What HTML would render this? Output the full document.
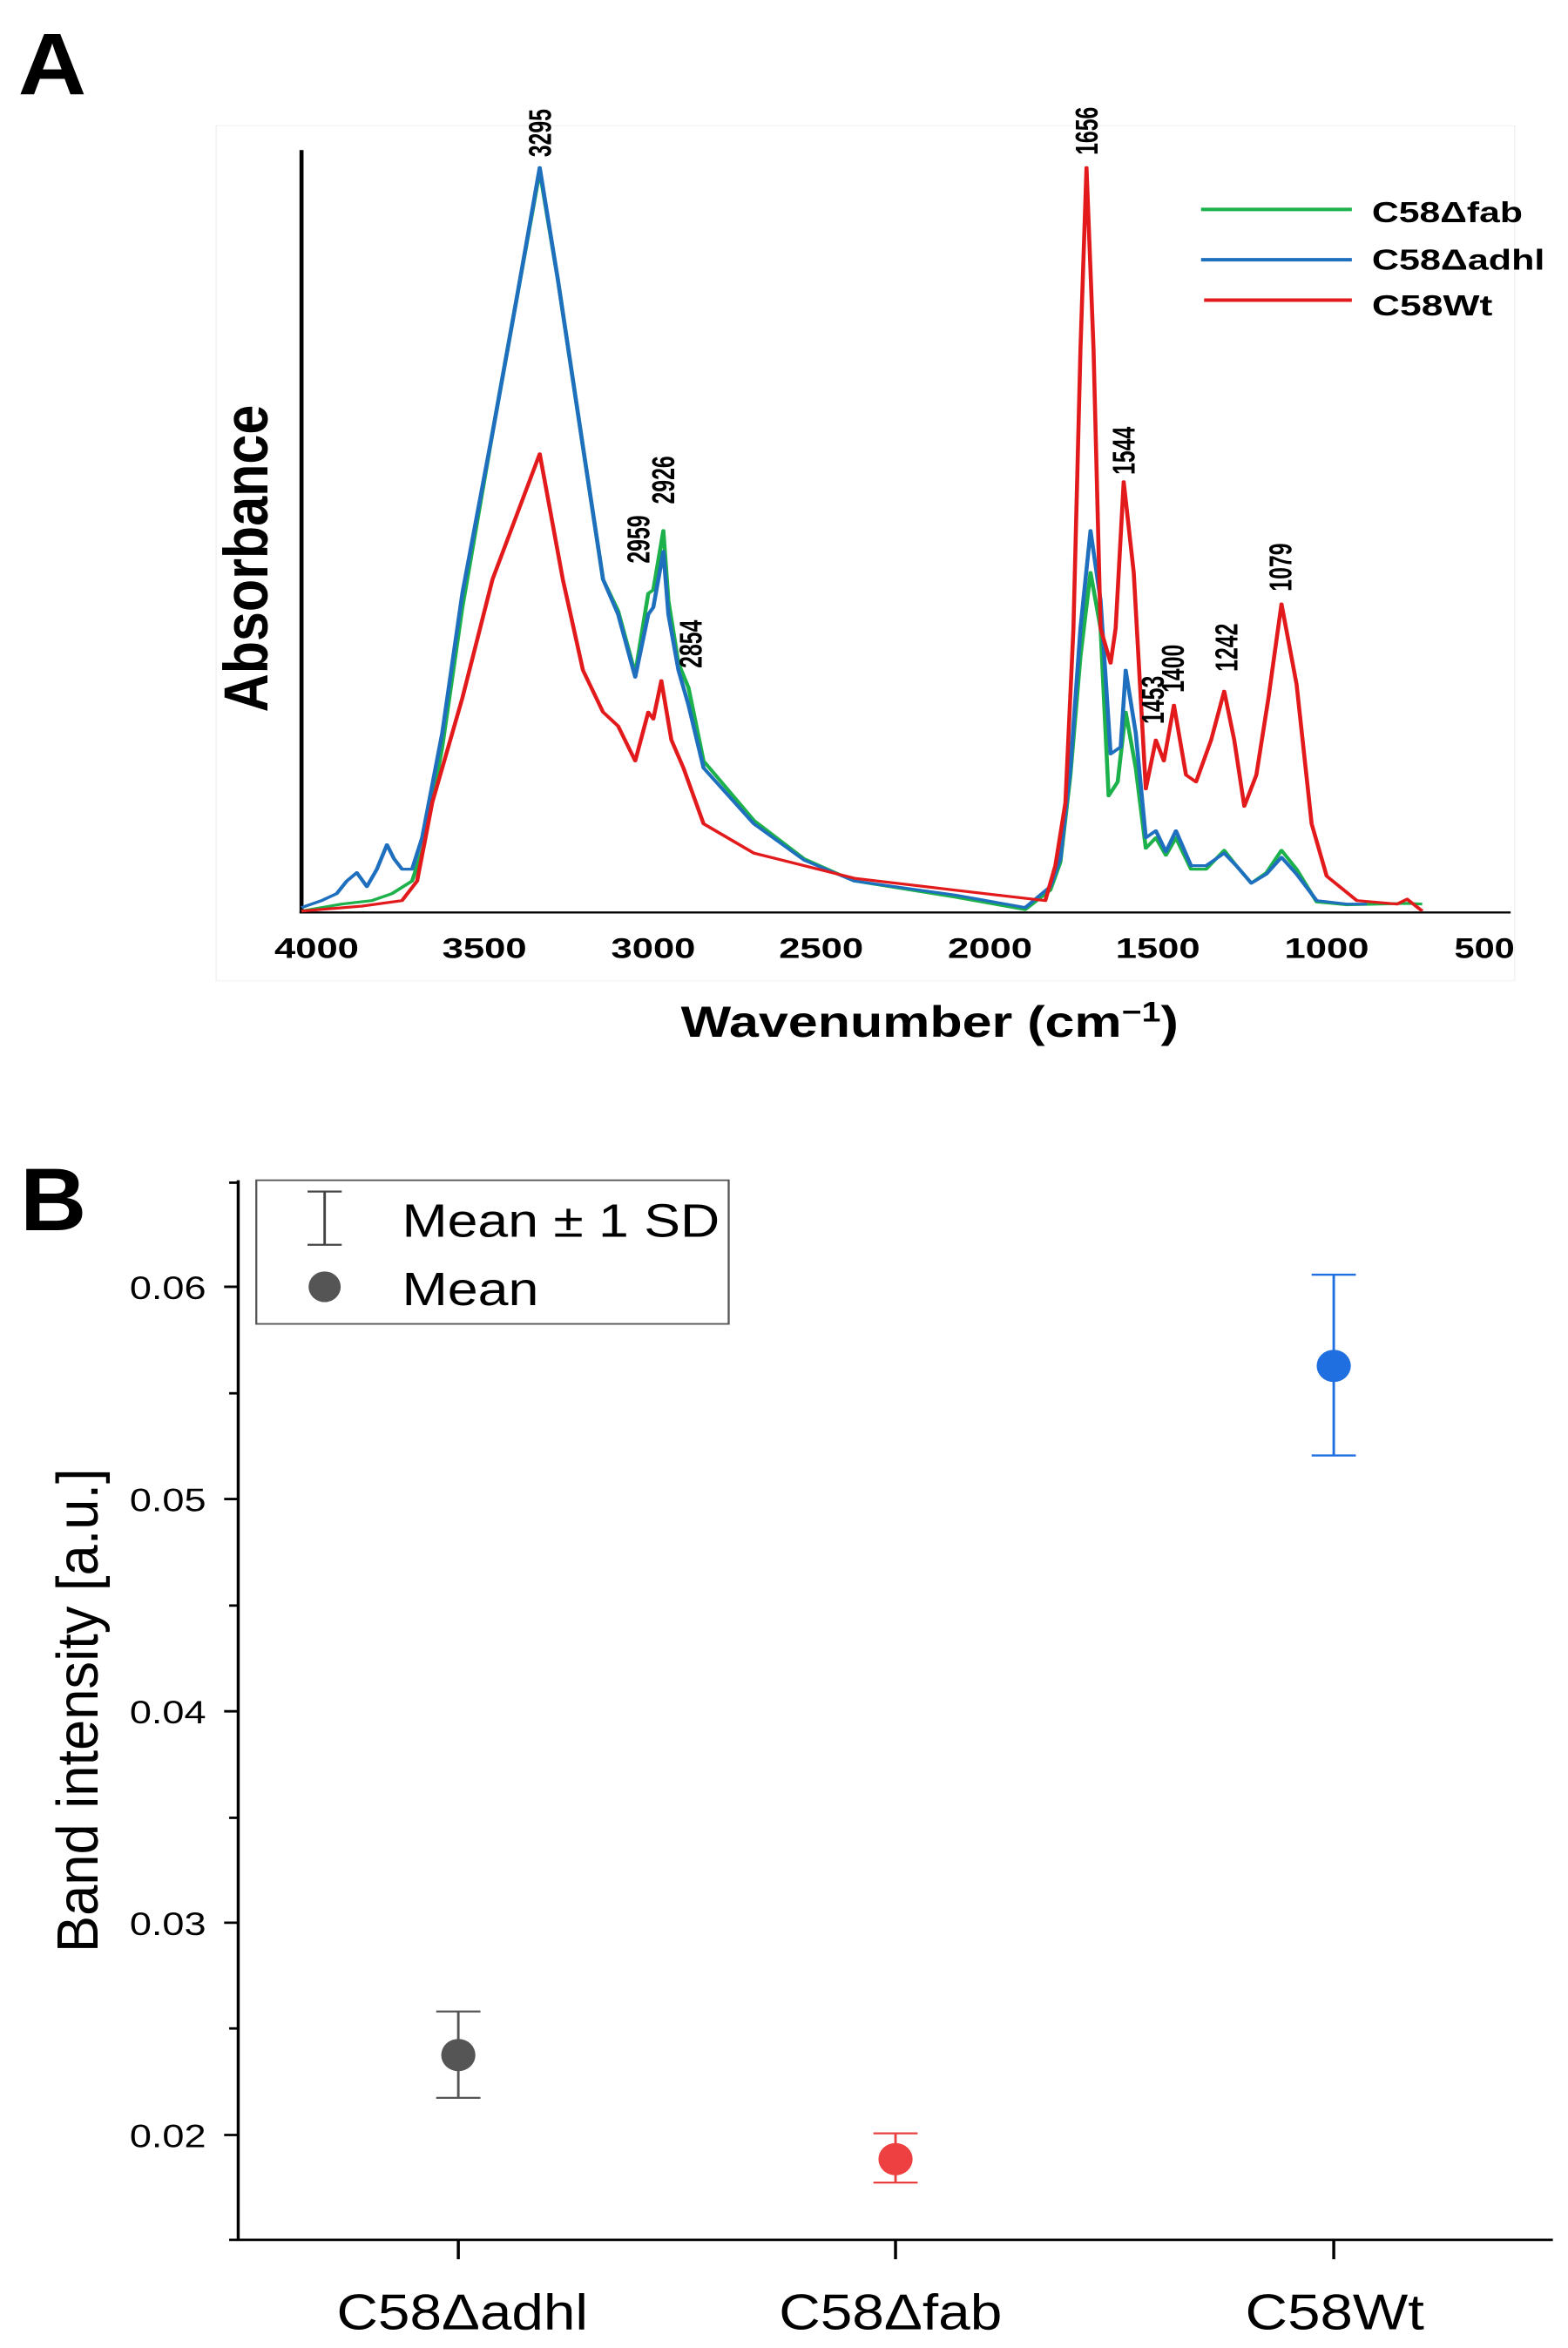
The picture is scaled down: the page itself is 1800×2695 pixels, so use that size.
<!DOCTYPE html>
<html><head><meta charset="utf-8"><style>
html,body{margin:0;padding:0;background:#fff;}
svg{display:block;}
text{font-family:"Liberation Sans",Arial,sans-serif;}
</style></head><body>
<svg width="1800" height="2695" viewBox="0 0 1800 2695" xmlns="http://www.w3.org/2000/svg">
<!-- Panel A -->
<g transform="scale(1.1538,0.8013)">
<text x="18" y="135" font-size="125" font-weight="bold" textLength="68" lengthAdjust="spacingAndGlyphs">A</text>
<rect x="215" y="180" width="1292" height="1225" fill="none" stroke="#eee" stroke-width="1"/>
<line x1="300" y1="215" x2="300" y2="1308" stroke="#000" stroke-width="4"/>
<line x1="298" y1="1307" x2="1503" y2="1307" stroke="#000" stroke-width="3"/>
<g font-size="40" font-weight="bold" text-anchor="middle">
<text x="315" y="1372" textLength="84" lengthAdjust="spacingAndGlyphs">4000</text>
<text x="482" y="1372" textLength="84" lengthAdjust="spacingAndGlyphs">3500</text>
<text x="650" y="1372" textLength="84" lengthAdjust="spacingAndGlyphs">3000</text>
<text x="817" y="1372" textLength="84" lengthAdjust="spacingAndGlyphs">2500</text>
<text x="985" y="1372" textLength="84" lengthAdjust="spacingAndGlyphs">2000</text>
<text x="1152" y="1372" textLength="84" lengthAdjust="spacingAndGlyphs">1500</text>
<text x="1320" y="1372" textLength="84" lengthAdjust="spacingAndGlyphs">1000</text>
<text x="1477" y="1372" textLength="60" lengthAdjust="spacingAndGlyphs">500</text>
</g>
<text x="925" y="1485" font-size="62" font-weight="bold" text-anchor="middle" textLength="495" lengthAdjust="spacingAndGlyphs">Wavenumber (cm<tspan font-size="40" dy="-22">−1</tspan><tspan dy="22">)</tspan></text>
<text transform="translate(266,800) rotate(-90)" font-size="62" font-weight="bold" text-anchor="middle" textLength="440" lengthAdjust="spacingAndGlyphs">Absorbance</text>

<g fill="none" stroke-width="4" stroke-linejoin="round">
<polyline stroke="#1db14b" points="300,1305 340,1295 370,1290 390,1280 410,1262 422,1210 440,1070 460,870 490,620 515,420 537,245 555,400 580,640 600,830 615,875 632,965 645,850 650,845 660,760 665,860 675,950 685,985 700,1090 750,1175 800,1230 850,1262 950,1285 1020,1303 1045,1275 1055,1235 1065,1110 1075,940 1085,820 1095,900 1103,1140 1112,1120 1120,1020 1130,1100 1140,1215 1150,1200 1160,1225 1170,1200 1185,1245 1200,1245 1218,1218 1230,1240 1245,1265 1260,1250 1275,1218 1290,1245 1310,1292 1340,1296 1400,1294 1415,1295"/>
<polyline stroke="#1f6fbf" points="300,1300 320,1290 335,1280 345,1262 355,1250 365,1270 375,1245 385,1210 392,1230 400,1245 410,1245 420,1200 440,1050 460,850 490,620 515,420 537,240 555,400 580,640 600,830 615,880 632,970 645,880 650,870 660,790 665,880 675,960 685,1010 700,1100 750,1180 800,1232 850,1262 950,1282 1020,1300 1045,1270 1055,1230 1065,1100 1075,900 1085,760 1095,860 1105,1080 1115,1070 1120,960 1130,1050 1140,1200 1150,1190 1160,1220 1170,1190 1185,1240 1200,1240 1218,1222 1230,1240 1245,1265 1260,1252 1275,1228 1290,1252 1310,1290 1340,1295 1360,1295"/>
<polyline stroke="#e31a1c" points="300,1305 360,1298 400,1290 415,1262 430,1150 460,1000 490,830 537,650 560,830 580,960 600,1020 615,1040 632,1090 645,1020 650,1030 658,975 668,1060 680,1100 700,1180 750,1222 850,1258 950,1275 1040,1290 1050,1240 1060,1150 1068,900 1075,500 1081,240 1088,500 1095,900 1105,950 1110,900 1118,690 1128,820 1140,1130 1150,1060 1158,1090 1168,1010 1180,1110 1190,1120 1205,1060 1218,990 1228,1060 1238,1155 1250,1110 1262,1000 1275,865 1290,980 1305,1180 1320,1255 1350,1290 1390,1295 1400,1288 1415,1305"/>
</g>
<g font-size="31" font-weight="bold" text-anchor="start">
<text transform="translate(548,225) rotate(-90)">3295</text>
<text transform="translate(1092,222) rotate(-90)">1656</text>
<text transform="translate(646,807) rotate(-90)">2959</text>
<text transform="translate(671,722) rotate(-90)">2926</text>
<text transform="translate(698,957) rotate(-90)">2854</text>
<text transform="translate(1129,680) rotate(-90)">1544</text>
<text transform="translate(1158,1037) rotate(-90)">1453</text>
<text transform="translate(1178,992) rotate(-90)">1400</text>
<text transform="translate(1231,962) rotate(-90)">1242</text>
<text transform="translate(1285,847) rotate(-90)">1079</text>
</g>
<g stroke-width="5">
<line x1="1195" y1="300" x2="1345" y2="300" stroke="#1db14b"/>
<line x1="1195" y1="372" x2="1345" y2="372" stroke="#1f6fbf"/>
<line x1="1198" y1="430" x2="1345" y2="430" stroke="#e31a1c"/>
</g>
<g font-size="42" font-weight="bold">
<text x="1365" y="318" textLength="150" lengthAdjust="spacingAndGlyphs">C58Δfab</text>
<text x="1365" y="386" textLength="172" lengthAdjust="spacingAndGlyphs">C58Δadhl</text>
<text x="1365" y="452" textLength="120" lengthAdjust="spacingAndGlyphs">C58Wt</text>
</g>
</g>

<!-- Panel B -->
<g transform="translate(0,1250) scale(1.1538,0.9263)">
<text x="20" y="175" font-size="110" font-weight="bold" textLength="66" lengthAdjust="spacingAndGlyphs">B</text>
<line x1="237" y1="113" x2="237" y2="1427" stroke="#000" stroke-width="3"/>
<line x1="228" y1="1426" x2="1545" y2="1426" stroke="#000" stroke-width="3"/>
<g stroke="#000" stroke-width="3">
<line x1="223" y1="245" x2="237" y2="245"/><line x1="228" y1="377" x2="237" y2="377"/>
<line x1="223" y1="508" x2="237" y2="508"/><line x1="228" y1="640" x2="237" y2="640"/>
<line x1="223" y1="771" x2="237" y2="771"/><line x1="228" y1="903" x2="237" y2="903"/>
<line x1="223" y1="1033" x2="237" y2="1033"/><line x1="228" y1="1164" x2="237" y2="1164"/>
<line x1="223" y1="1296" x2="237" y2="1296"/><line x1="228" y1="116" x2="237" y2="116"/>
<line x1="456" y1="1426" x2="456" y2="1450"/><line x1="891" y1="1426" x2="891" y2="1450"/><line x1="1327" y1="1426" x2="1327" y2="1450"/>
</g>
<g font-size="40" text-anchor="end">
<text x="205" y="260" textLength="76" lengthAdjust="spacingAndGlyphs">0.06</text>
<text x="205" y="523" textLength="76" lengthAdjust="spacingAndGlyphs">0.05</text>
<text x="205" y="786" textLength="76" lengthAdjust="spacingAndGlyphs">0.04</text>
<text x="205" y="1048" textLength="76" lengthAdjust="spacingAndGlyphs">0.03</text>
<text x="205" y="1311" textLength="76" lengthAdjust="spacingAndGlyphs">0.02</text>
</g>
<g font-size="62" text-anchor="middle">
<text x="460" y="1537" textLength="250" lengthAdjust="spacingAndGlyphs">C58Δadhl</text>
<text x="886" y="1537" textLength="222" lengthAdjust="spacingAndGlyphs">C58Δfab</text>
<text x="1328" y="1537" textLength="178" lengthAdjust="spacingAndGlyphs">C58Wt</text>
</g>
<text transform="translate(97,770) rotate(-90)" font-size="58" text-anchor="middle" textLength="600" lengthAdjust="spacingAndGlyphs">Band intensity [a.u.]</text>
<rect x="255" y="113" width="470" height="178" fill="#fff" stroke="#555" stroke-width="2"/>
<g stroke="#444" stroke-width="2.5">
<line x1="323" y1="127" x2="323" y2="193"/><line x1="306" y1="127" x2="340" y2="127"/><line x1="306" y1="193" x2="340" y2="193"/>
</g>
<ellipse cx="323" cy="245" rx="16" ry="19" fill="#555"/>
<text x="400" y="183" font-size="58" textLength="316" lengthAdjust="spacingAndGlyphs">Mean ± 1 SD</text>
<text x="400" y="268" font-size="58" textLength="136" lengthAdjust="spacingAndGlyphs">Mean</text>
<g stroke-width="2.5">
<g stroke="#555"><line x1="456" y1="1143" x2="456" y2="1250"/><line x1="434" y1="1143" x2="478" y2="1143"/><line x1="434" y1="1250" x2="478" y2="1250"/></g>
<g stroke="#e84040"><line x1="891" y1="1294" x2="891" y2="1355"/><line x1="869" y1="1294" x2="913" y2="1294"/><line x1="869" y1="1355" x2="913" y2="1355"/></g>
<g stroke="#1f6fe0"><line x1="1327" y1="230" x2="1327" y2="454"/><line x1="1305" y1="230" x2="1349" y2="230"/><line x1="1305" y1="454" x2="1349" y2="454"/></g>
</g>
<ellipse cx="456" cy="1197" rx="17" ry="20" fill="#555"/>
<ellipse cx="891" cy="1326" rx="17" ry="20" fill="#ee4040"/>
<ellipse cx="1327" cy="343" rx="17" ry="20" fill="#1f6fe0"/>
</g>
</svg>
</body></html>
